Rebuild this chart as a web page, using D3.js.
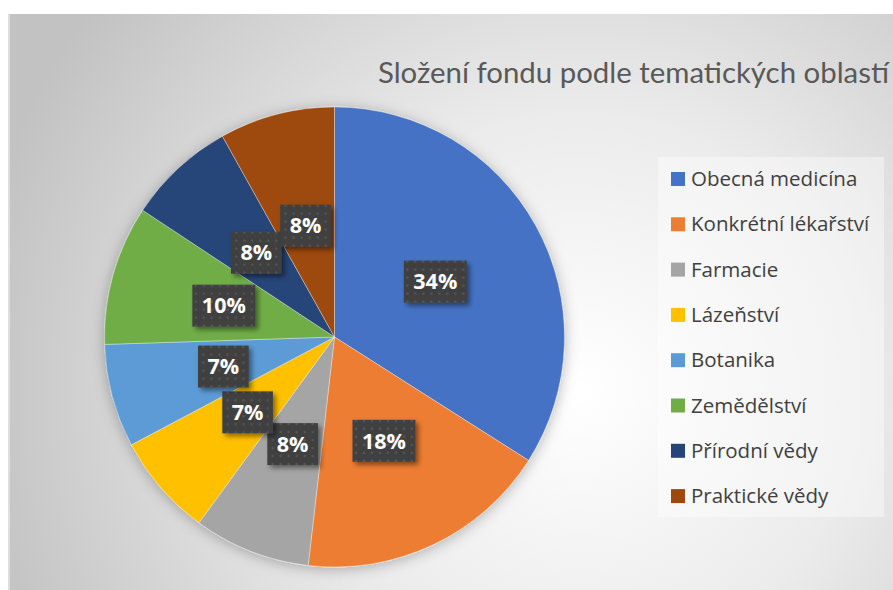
<!DOCTYPE html>
<html><head><meta charset="utf-8">
<script src="https://cdn.jsdelivr.net/npm/d3@7"></script>
<style>html,body{margin:0;padding:0;background:#fff;}svg{display:block;}</style>
</head><body>
<svg id="c" width="893" height="590"></svg>
<script>
const categories = ["Obecná medicína","Konkrétní lékařství","Farmacie","Lázeňství","Botanika","Zemědělství","Přírodní vědy","Praktické vědy"];
const values = [34.0, 17.8, 8.2, 7.2, 7.25, 9.8, 7.6, 8.1];
const colors = ["#4472C4","#ED7D31","#A5A5A5","#FFC000","#5B9BD5","#70AD47","#264478","#9E480E"];
const title = "Složení fondu podle tematických oblastí";

const svg = d3.select("#c");
const W = 893, H = 590;
const defs = svg.append("defs");

// background gradient
const rg = defs.append("radialGradient").attr("id","bg").attr("gradientUnits","userSpaceOnUse")
  .attr("cx",580).attr("cy",390).attr("r",620);
rg.append("stop").attr("offset","0").attr("stop-color","#ffffff");
rg.append("stop").attr("offset","0.45").attr("stop-color","#ebebeb");
rg.append("stop").attr("offset","1").attr("stop-color","#c2c2c2");

// pie shadow
const ps = defs.append("filter").attr("id","pieShadow").attr("x","-20%").attr("y","-20%").attr("width","140%").attr("height","140%");
ps.append("feDropShadow").attr("dx",0).attr("dy",2).attr("stdDeviation",7).attr("flood-color","#000").attr("flood-opacity",0.28);

// label shadow
const ls = defs.append("filter").attr("id","lblShadow").attr("x","-30%").attr("y","-30%").attr("width","160%").attr("height","160%");
ls.append("feDropShadow").attr("dx",3).attr("dy",3).attr("stdDeviation",2.5).attr("flood-color","#000").attr("flood-opacity",0.45);

// dot pattern
const pat = defs.append("pattern").attr("id","dots").attr("patternUnits","userSpaceOnUse").attr("width",8).attr("height",8);
pat.append("rect").attr("width",8).attr("height",8).attr("fill","#404040");
pat.append("circle").attr("cx",4).attr("cy",4).attr("r",1.3).attr("fill","#555555");

// chart area
svg.append("rect").attr("x",8).attr("y",14).attr("width",W-8).attr("height",H-14).attr("fill","url(#bg)");
svg.append("line").attr("x1",9).attr("x2",9).attr("y1",14).attr("y2",H).attr("stroke","#e6e6e6").attr("stroke-width",1.5);

// title
svg.append("text").attr("x",378).attr("y",83).text(title)
  .attr("font-family","Lato, 'Open Sans', sans-serif").attr("font-size",28).attr("fill","#595959")
  .attr("textLength",511).attr("lengthAdjust","spacingAndGlyphs");

// pie
const cx = 334.5, cy = 337, R = 230;
const pie = d3.pie().sort(null).value(d => d.v);
const data = pie(categories.map((c,i)=>({c, v: values[i], col: colors[i]})));
const arc = d3.arc().innerRadius(0).outerRadius(R);
const g = svg.append("g").attr("transform",`translate(${cx},${cy})`);
g.append("g").attr("filter","url(#pieShadow)").selectAll("path").data(data).join("path")
  .attr("d",arc).attr("fill",d=>d.data.col).attr("stroke","#ffffff").attr("stroke-opacity",0.6).attr("stroke-width",0.6);

// labels
const total = d3.sum(values);
const lblArc = d3.arc().innerRadius(R*0.5).outerRadius(R*0.5);
const lg = g.append("g");
data.forEach(d => {
  const [x,y] = lblArc.centroid(d);
  const txt = Math.round(d.data.v/total*100) + "%";
  const grp = lg.append("g").attr("transform",`translate(${x},${y})`);
  const rect = grp.append("rect");
  const t = grp.append("text").text(txt).attr("text-anchor","middle").attr("dy","0.36em")
    .attr("font-family","'Open Sans', Lato, sans-serif").attr("font-weight","bold").attr("font-size",21.5).attr("fill","#ffffff");
  const w = t.node().getComputedTextLength();
  const bw = w + 19, bh = 42;
  rect.attr("x",-bw/2).attr("y",-bh/2).attr("width",bw).attr("height",bh).attr("fill","url(#dots)").attr("filter","url(#lblShadow)");
});

// legend
svg.append("rect").attr("x",658).attr("y",157).attr("width",226).attr("height",360).attr("fill","#ffffff").attr("fill-opacity",0.4);
const leg = svg.append("g");
categories.forEach((c,i) => {
  const y = 179 + i*45.3;
  leg.append("rect").attr("x",671).attr("y",y-7).attr("width",14).attr("height",14).attr("fill",colors[i]);
  leg.append("text").attr("x",691).attr("y",y).attr("dy","0.35em").text(c)
    .attr("font-family","'Open Sans', Lato, sans-serif").attr("font-size",20.5).attr("fill","#404040");
});
</script>
</body></html>
